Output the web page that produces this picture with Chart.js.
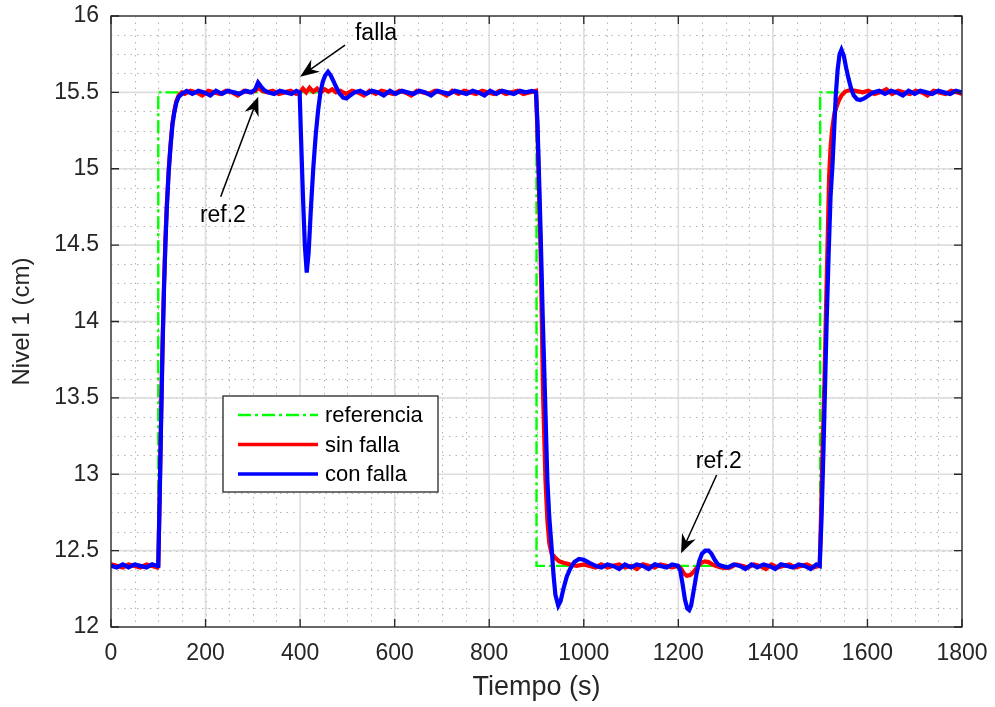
<!DOCTYPE html>
<html>
<head>
<meta charset="utf-8">
<script src="https://cdn.jsdelivr.net/npm/chart.js@4.4.1/dist/chart.umd.min.js"></script>
<style>
body { margin: 0; background: #fff; }
</style>
</head>
<body>
<canvas id="nivel" width="995" height="707"></canvas>
<script>
// --- datos --------------------------------------------------------------
var tiempoRef = [0, 100, 100, 900, 900, 1500, 1500, 1800];
var nivelRef = [12.4, 12.4, 15.5, 15.5, 12.4, 12.4, 15.5, 15.5];

// sin falla (rojo)
var tiempoSin = [
    0, 12, 25, 37, 50, 62, 75, 87, 98,
    100, 103, 106, 109, 112, 115, 118, 122, 126, 130, 134, 138, 143, 150,
    156, 168, 181, 193, 206, 218, 231, 243, 256, 268, 281, 293,
    305, 312, 320, 330, 342, 355, 367, 380, 392, 400,
    406, 413, 420, 428, 436, 444, 452, 460, 468, 476, 485, 497,
    510, 522, 535, 547, 560, 572, 585, 597, 610, 622, 635, 647, 660, 672, 685, 697,
    710, 722, 735, 747, 760, 772, 785, 797, 810, 822, 835, 847, 860, 872, 885, 899,
    902, 905, 909, 914, 919, 923, 927, 932, 939, 948, 957, 970, 985, 1000, 1012, 1025,
    1037, 1050, 1062, 1075, 1087, 1100, 1112, 1125, 1137, 1150, 1162, 1175, 1187, 1199,
    1206, 1212, 1218, 1225, 1232, 1240, 1248, 1256, 1264, 1272, 1280, 1290, 1300, 1310,
    1322, 1335, 1347, 1360, 1372, 1385, 1397, 1410, 1422, 1435, 1447, 1460, 1472, 1485, 1499,
    1502, 1505, 1509, 1512, 1516, 1519, 1522, 1525, 1530, 1535, 1540, 1545, 1553, 1563, 1575, 1590,
    1602, 1615, 1627, 1640, 1652, 1665, 1677, 1690, 1702, 1715, 1727, 1740, 1752, 1765, 1777, 1790, 1800
];
var nivelSin = [
    12.41, 12.40, 12.39, 12.41, 12.40, 12.39, 12.41, 12.40, 12.39,
    12.40, 12.87, 13.38, 13.85, 14.23, 14.52, 14.76, 14.99, 15.16, 15.30, 15.38, 15.44, 15.48, 15.50,
    15.49, 15.51, 15.50, 15.48, 15.51, 15.50, 15.49, 15.51, 15.50, 15.48, 15.51, 15.50,
    15.51, 15.53, 15.51, 15.50, 15.51, 15.49, 15.50, 15.51, 15.49, 15.50,
    15.525, 15.50, 15.53, 15.505, 15.525, 15.50, 15.52, 15.505, 15.52, 15.50, 15.51, 15.49,
    15.51, 15.50, 15.48, 15.51, 15.49, 15.51, 15.50, 15.49, 15.51, 15.50, 15.48, 15.51, 15.50, 15.49, 15.51, 15.50,
    15.48, 15.51, 15.49, 15.51, 15.50, 15.49, 15.51, 15.50, 15.49, 15.51, 15.49, 15.50, 15.51, 15.49, 15.50, 15.51,
    15.25, 14.90, 14.40, 13.51, 12.96, 12.70, 12.55, 12.48, 12.455, 12.43, 12.42, 12.41, 12.40, 12.41, 12.40, 12.39,
    12.41, 12.39, 12.40, 12.41, 12.39, 12.40, 12.38, 12.41, 12.40, 12.39, 12.41, 12.40, 12.39, 12.40,
    12.38, 12.35, 12.335, 12.34, 12.36, 12.39, 12.42, 12.43, 12.425, 12.41, 12.40, 12.39, 12.385, 12.39,
    12.41, 12.40, 12.39, 12.41, 12.40, 12.38, 12.41, 12.39, 12.40, 12.41, 12.39, 12.40, 12.41, 12.39, 12.40,
    12.75, 13.16, 13.60, 14.03, 14.55, 14.95, 15.14, 15.25, 15.36, 15.41, 15.45, 15.48, 15.505, 15.515, 15.51, 15.50,
    15.51, 15.49, 15.50, 15.52, 15.49, 15.51, 15.50, 15.49, 15.51, 15.50, 15.48, 15.51, 15.50, 15.49, 15.51, 15.50, 15.49
];

// con falla (azul)
var tiempoCon = [
    0, 12, 25, 37, 50, 62, 75, 87, 98,
    100, 103, 106, 109, 112, 115, 118, 122, 126, 130, 134, 138, 143, 150,
    160, 172, 185, 197, 210, 222, 235, 247, 260, 272, 285, 297,
    305, 311, 317, 324, 332, 345, 357, 370, 382, 392, 399,
    402, 406, 410, 414, 418, 423, 428, 433, 438, 443, 448, 453, 459, 465, 471, 477, 484, 491, 498, 506, 515,
    527, 540, 552, 565, 577, 590, 602, 615, 627, 640, 652, 665, 677, 690, 702,
    715, 727, 740, 752, 765, 777, 790, 802, 815, 827, 840, 852, 865, 877, 890, 899,
    902, 905, 909, 913, 918, 923, 927, 932, 936, 940, 946, 951, 957, 964, 971, 980, 990, 1000, 1012, 1025,
    1037, 1050, 1062, 1075, 1087, 1100, 1112, 1125, 1137, 1150, 1162, 1175, 1187, 1199,
    1204, 1209, 1214, 1219, 1223, 1227, 1232, 1238, 1244, 1250, 1257, 1264, 1270, 1277, 1284, 1292,
    1305, 1317, 1330, 1342, 1355, 1367, 1380, 1392, 1405, 1417, 1430, 1442, 1455, 1467, 1480, 1492, 1499,
    1503, 1507, 1511, 1514, 1518, 1522, 1526, 1530, 1533, 1537, 1541, 1545, 1550, 1555, 1560, 1565, 1571, 1578, 1585, 1593, 1602, 1612,
    1625, 1637, 1650, 1662, 1675, 1687, 1700, 1712, 1725, 1737, 1750, 1762, 1775, 1787, 1800
];
var nivelCon = [
    12.40, 12.39, 12.41, 12.39, 12.41, 12.40, 12.39, 12.41, 12.40,
    12.40, 12.85, 13.35, 13.82, 14.20, 14.50, 14.74, 14.98, 15.15, 15.29, 15.37, 15.43, 15.47, 15.49,
    15.51, 15.49, 15.51, 15.50, 15.48, 15.51, 15.49, 15.51, 15.50, 15.49, 15.51, 15.50,
    15.52, 15.565, 15.54, 15.515, 15.50, 15.49, 15.51, 15.50, 15.49, 15.51, 15.50,
    15.20, 14.82, 14.50, 14.32, 14.45, 14.75, 15.01, 15.22, 15.38, 15.50, 15.57, 15.61, 15.635, 15.61, 15.57, 15.53, 15.49, 15.465, 15.46, 15.48, 15.50,
    15.51, 15.49, 15.51, 15.50, 15.48, 15.51, 15.49, 15.51, 15.50, 15.49, 15.51, 15.50, 15.48, 15.51, 15.50,
    15.49, 15.51, 15.50, 15.49, 15.51, 15.50, 15.48, 15.51, 15.49, 15.51, 15.50, 15.49, 15.51, 15.50, 15.51, 15.50,
    15.30, 14.99, 14.55, 14.05, 13.51, 12.96, 12.72, 12.52, 12.34, 12.21, 12.14, 12.17, 12.25, 12.33, 12.38, 12.425, 12.445, 12.44, 12.42, 12.40,
    12.39, 12.41, 12.40, 12.38, 12.41, 12.39, 12.41, 12.40, 12.38, 12.41, 12.40, 12.39, 12.41, 12.40,
    12.37, 12.28, 12.18, 12.12, 12.11, 12.14, 12.23, 12.34, 12.43, 12.48, 12.50, 12.50, 12.48, 12.44, 12.41, 12.40,
    12.39, 12.41, 12.40, 12.38, 12.41, 12.39, 12.41, 12.40, 12.38, 12.41, 12.40, 12.39, 12.41, 12.40, 12.38, 12.41, 12.40,
    12.72, 13.16, 13.66, 14.03, 14.45, 14.82, 15.02, 15.28, 15.48, 15.65, 15.75, 15.78, 15.74, 15.66, 15.59, 15.53, 15.48, 15.455, 15.45, 15.46, 15.48, 15.50,
    15.51, 15.49, 15.51, 15.50, 15.48, 15.51, 15.49, 15.51, 15.50, 15.49, 15.51, 15.50, 15.49, 15.51, 15.50
];

var ticksTiempo = [0, 200, 400, 600, 800, 1000, 1200, 1400, 1600, 1800];
var ticksNivel = [12, 12.5, 13, 13.5, 14, 14.5, 15, 15.5, 16];

// anotaciones (texto: esquina izq./linea base; flecha: cola -> punta), en unidades de datos
var notas = [
    {texto: 'falla', tx: 516, ty: 15.843, x0: 495, y0: 15.81, x1: 400, y1: 15.603},
    {texto: 'ref.2', tx: 188, ty: 14.653, x0: 232, y0: 14.817, x1: 311.4, y1: 15.472},
    {texto: 'ref.2', tx: 1237, ty: 13.039, x0: 1281, y0: 12.995, x1: 1205.7, y1: 12.482}
];

var FUENTE = '"Liberation Sans", Arial, Helvetica, sans-serif';
var GRIS = '#262626';

function puntos(ts, ys) {
    return ts.map(function (t, i) { return {x: t, y: ys[i]}; });
}

function dibujarFlecha(ctx, x0, y0, x1, y1) {
    var ang = Math.atan2(y1 - y0, x1 - x0);
    var c = Math.cos(ang), s = Math.sin(ang);
    var L = 19, W = 7.5;
    var bx = x1 - L * c, by = y1 - L * s;
    ctx.beginPath();
    ctx.moveTo(x0, y0);
    ctx.lineTo(x1 - 0.6 * L * c, y1 - 0.6 * L * s);
    ctx.stroke();
    ctx.beginPath();
    ctx.moveTo(x1, y1);
    ctx.lineTo(bx + W * s, by - W * c);
    ctx.lineTo(x1 - 0.68 * L * c, y1 - 0.68 * L * s);
    ctx.lineTo(bx - W * s, by + W * c);
    ctx.closePath();
    ctx.fill();
}

// --- rejilla, caja, marcas, anotaciones y leyenda estilo matlab ---------
var estiloMatlab = {
    id: 'estiloMatlab',
    beforeDatasetsDraw: function (chart) {
        var a = chart.chartArea, sx = chart.scales.x, sy = chart.scales.y, ctx = chart.ctx;
        ctx.save();
        // rejilla menor punteada
        ctx.strokeStyle = '#b2b2b2';
        ctx.lineWidth = 1;
        ctx.setLineDash([1.5, 5]);
        ctx.beginPath();
        for (var t = sx.min; t <= sx.max; t += 50) {
            var px = Math.round(sx.getPixelForValue(t)) + 0.5;
            ctx.moveTo(px, a.top);
            ctx.lineTo(px, a.bottom);
        }
        for (var v = sy.min; v <= sy.max; v += 0.125) {
            var py = Math.round(sy.getPixelForValue(v)) + 0.5;
            ctx.moveTo(a.left, py);
            ctx.lineTo(a.right, py);
        }
        ctx.stroke();
        // rejilla mayor
        ctx.setLineDash([]);
        ctx.strokeStyle = '#dedede';
        ctx.lineWidth = 1.6;
        ctx.beginPath();
        ticksTiempo.forEach(function (t) {
            var px = sx.getPixelForValue(t);
            ctx.moveTo(px, a.top);
            ctx.lineTo(px, a.bottom);
        });
        ticksNivel.forEach(function (v) {
            var py = sy.getPixelForValue(v);
            ctx.moveTo(a.left, py);
            ctx.lineTo(a.right, py);
        });
        ctx.stroke();
        ctx.restore();
    },
    afterDatasetsDraw: function (chart) {
        var a = chart.chartArea, sx = chart.scales.x, sy = chart.scales.y, ctx = chart.ctx;
        ctx.save();
        // caja y marcas hacia adentro
        ctx.strokeStyle = GRIS;
        ctx.lineWidth = 1.3;
        ctx.strokeRect(a.left, a.top, a.right - a.left, a.bottom - a.top);
        ctx.beginPath();
        ticksTiempo.forEach(function (t) {
            var px = sx.getPixelForValue(t);
            ctx.moveTo(px, a.bottom); ctx.lineTo(px, a.bottom - 8);
            ctx.moveTo(px, a.top); ctx.lineTo(px, a.top + 8);
        });
        ticksNivel.forEach(function (v) {
            var py = sy.getPixelForValue(v);
            ctx.moveTo(a.left, py); ctx.lineTo(a.left + 8, py);
            ctx.moveTo(a.right, py); ctx.lineTo(a.right - 8, py);
        });
        ctx.stroke();

        // anotaciones
        ctx.strokeStyle = '#000';
        ctx.fillStyle = '#000';
        ctx.lineWidth = 1.5;
        ctx.font = '23px ' + FUENTE;
        ctx.textAlign = 'left';
        ctx.textBaseline = 'alphabetic';
        notas.forEach(function (n) {
            ctx.fillText(n.texto, sx.getPixelForValue(n.tx), sy.getPixelForValue(n.ty));
            dibujarFlecha(ctx, sx.getPixelForValue(n.x0), sy.getPixelForValue(n.y0),
                sx.getPixelForValue(n.x1), sy.getPixelForValue(n.y1));
        });

        // leyenda dentro del area
        var lx = a.left + 112, ly = a.top + 380, lw = 215, lh = 96;
        ctx.fillStyle = '#fff';
        ctx.fillRect(lx, ly, lw, lh);
        ctx.strokeStyle = GRIS;
        ctx.lineWidth = 1.3;
        ctx.strokeRect(lx, ly, lw, lh);
        ctx.font = '22px ' + FUENTE;
        ctx.textBaseline = 'middle';
        chart.data.datasets.forEach(function (ds, i) {
            var yy = ly + 19 + i * 29.5;
            ctx.strokeStyle = ds.borderColor;
            ctx.lineWidth = Math.min(ds.borderWidth, 3.4);
            ctx.setLineDash(ds.borderDash || []);
            ctx.beginPath();
            ctx.moveTo(lx + 15, yy);
            ctx.lineTo(lx + 95, yy);
            ctx.stroke();
            ctx.setLineDash([]);
            ctx.fillStyle = '#000';
            ctx.fillText(ds.label, lx + 102, yy + 1);
        });
        ctx.restore();
    }
};

new Chart(document.getElementById('nivel'), {
    type: 'line',
    data: {
        datasets: [
            {label: 'referencia', data: puntos(tiempoRef, nivelRef), borderColor: '#00ff00',
                borderWidth: 2.4, borderDash: [13, 4, 3, 4], order: 3},
            {label: 'sin falla', data: puntos(tiempoSin, nivelSin), borderColor: '#ff0000',
                borderWidth: 4.2, order: 2},
            {label: 'con falla', data: puntos(tiempoCon, nivelCon), borderColor: '#0000ff',
                borderWidth: 4.2, order: 1}
        ]
    },
    options: {
        responsive: false,
        animation: false,
        devicePixelRatio: 1,
        layout: {padding: {top: 16, right: 33, left: 0, bottom: 0}},
        elements: {point: {radius: 0}, line: {tension: 0}},
        plugins: {legend: {display: false}, tooltip: {enabled: false}},
        scales: {
            x: {
                type: 'linear', min: 0, max: 1800,
                afterFit: function (scale) {
                    scale.height = 80;
                    scale.paddingLeft = 0;
                    scale.paddingRight = 0;
                },
                afterBuildTicks: function (scale) {
                    scale.ticks = ticksTiempo.map(function (v) { return {value: v}; });
                },
                grid: {display: false, drawTicks: false},
                border: {display: false},
                ticks: {padding: 13, color: GRIS, maxRotation: 0, font: {family: FUENTE, size: 23},
                    callback: function (v) { return String(v); }},
                title: {display: true, text: 'Tiempo (s)', color: GRIS,
                    font: {family: FUENTE, size: 27}, padding: {top: 0, bottom: 3}}
            },
            y: {
                type: 'linear', min: 12, max: 16,
                afterFit: function (scale) {
                    scale.width = 111;
                    scale.paddingTop = 0;
                    scale.paddingBottom = 0;
                },
                afterBuildTicks: function (scale) {
                    scale.ticks = ticksNivel.map(function (v) { return {value: v}; });
                },
                grid: {display: false, drawTicks: false},
                border: {display: false},
                ticks: {padding: 12, color: GRIS, font: {family: FUENTE, size: 23},
                    callback: function (v) { return String(v); }},
                title: {display: true, text: 'Nivel 1 (cm)', color: GRIS,
                    font: {family: FUENTE, size: 24}, padding: {top: 8, bottom: 0}}
            }
        }
    },
    plugins: [estiloMatlab]
});
</script>
</body>
</html>
